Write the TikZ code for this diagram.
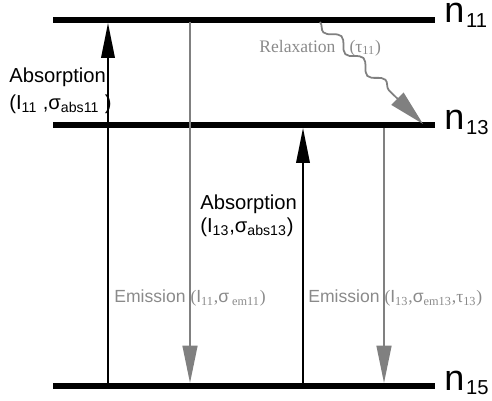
\documentclass[tikz,border=0pt]{standalone}
\usepackage{fontspec}
\setmainfont{Liberation Serif}
\setsansfont{Liberation Sans}
\usetikzlibrary{arrows.meta,decorations.pathmorphing}

\definecolor{emgray}{RGB}{128,128,128}
\definecolor{txtgray}{RGB}{138,138,138}
\newcommand{\lvlname}[1]{{\fontsize{20.5}{20}\selectfont n}\hspace{1pt}\raisebox{-2.8pt}{\fontsize{11.5}{12}\selectfont #1}}

\begin{document}
\begin{tikzpicture}
  [x=0.02cm,y=-0.02cm,every node/.style={inner sep=0pt,font=\sffamily}]
  \tikzstyle{level} = [line width=3.1pt]
  \tikzstyle{absorb} = [line width=1.1pt,-{Triangle[length=0.7cm,width=0.27cm]}]
  \tikzstyle{emit} = [draw=emgray,line width=0.9pt,-{Triangle[length=0.75cm,width=0.3cm]}]
  \tikzstyle{relax} = [draw=emgray,line width=1pt,decorate,
    decoration={snake,mirror,amplitude=0.1cm,segment length=0.62cm,post length=0.72cm},
    -{Triangle[length=0.72cm,width=0.34cm]}]
  \useasboundingbox (0,0) rectangle (492,401);

  % energy levels
  \node[anchor=base west] (n11) at (444,23)  {\lvlname{11}};
  \node[anchor=base west] (n13) at (444,130) {\lvlname{13}};
  \node[anchor=base west] (n15) at (444,390) {\lvlname{15}};
\foreach \lvl/\y in {n11/20,n13/125,n15/386}
   \draw[level] (53,\y) -- (435,\y);

  % transitions
  \coordinate (a1) at (108,386);  \coordinate (a2) at (108,23);
  \coordinate (e1) at (190,22);   \coordinate (e2) at (190,383);
  \coordinate (b1) at (303,386);  \coordinate (b2) at (303,128);
  \coordinate (f1) at (384,128);  \coordinate (f2) at (384,383);
  \coordinate (r1) at (320,22);   \coordinate (r2) at (423,124);

  \draw[absorb] (a1) -- (a2);
  \draw[absorb] (b1) -- (b2);
  \draw[emit] (e1) -- (e2);
  \draw[emit] (f1) -- (f2);
  \draw[relax] (r1) -- (r2);

  % labels
  \node[anchor=west,font=\sffamily\fontsize{11.5}{12}\selectfont] (abs11) at (9,77) {Absorption};
  \node[anchor=west,font=\sffamily\fontsize{11.5}{12}\selectfont] (par11) at (9,104)
    {(I\textsubscript{11} ,σ\textsubscript{abs11} )};
  \node[anchor=west,font=\sffamily\fontsize{11.5}{12}\selectfont] (abs13) at (200,204) {Absorption};
  \node[anchor=west,font=\sffamily\fontsize{11.5}{12}\selectfont] (par13) at (200,227)
    {(I\textsubscript{13},σ\textsubscript{abs13})};
  \node[anchor=west,text=txtgray,font=\sffamily\fontsize{10}{12}\selectfont] (em11) at (114,298)
    {Emission {\rmfamily(\textsf{I}\textsubscript{11},\textsf{σ}\,\textsubscript{em11})}};
  \node[anchor=west,text=txtgray,font=\sffamily\fontsize{10}{12}\selectfont] (em13) at (308,298)
    {Emission {\rmfamily(\textsf{I}\textsubscript{13},\textsf{σ}\textsubscript{em13},τ\textsubscript{13})}};
  \node[anchor=west,text=txtgray,font=\rmfamily\fontsize{10}{12}\selectfont] (rel11) at (259,48)
    {Relaxation\hspace{8pt}(τ\textsubscript{11})};

  \end{tikzpicture}
\end{document}
